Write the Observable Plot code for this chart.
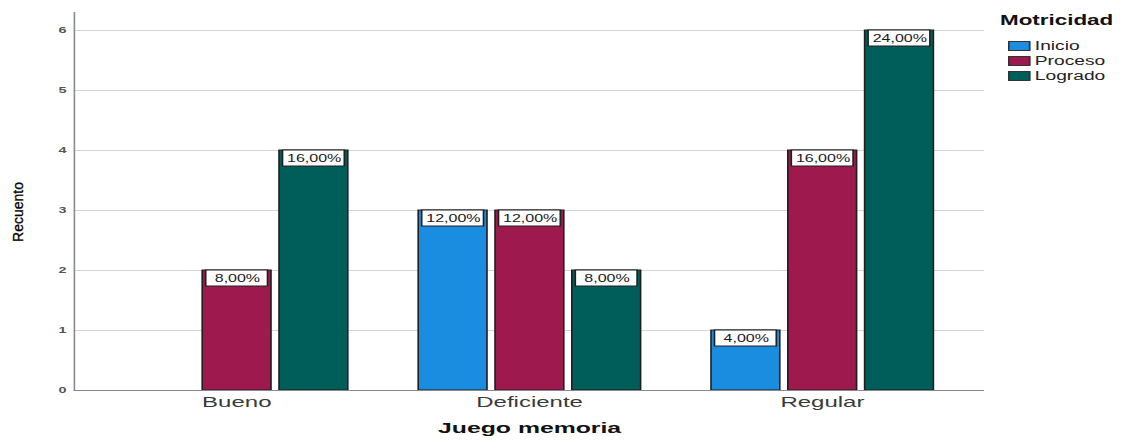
<!DOCTYPE html>
<html>
<head>
<meta charset="utf-8">
<script src="https://cdn.jsdelivr.net/npm/d3@7"></script>
<script src="https://cdn.jsdelivr.net/npm/@observablehq/plot@0.6"></script>
<style>
html, body { margin: 0; padding: 0; background: #fff; overflow: hidden; }
#stage { position: relative; width: 1125px; height: 441px; background: #fff; }
#wrap { position: absolute; left: 0; top: 0; width: 703.125px; height: 441px;
  transform: scaleX(1.6); transform-origin: 0 0;
  font-family: "Liberation Sans", Arial, sans-serif; }
#legend { position: absolute; left: 625px; top: 12px; color: #111; }
#legend .lt { font-size: 14px; font-weight: bold; line-height: 16px; }
#legend .rows { margin-top: 10.5px; }
#legend .row { display: flex; align-items: center; height: 15px; }
#legend .sw { margin-left: 5px; width: 13.75px; height: 10px; box-sizing: border-box; border: 1px solid #333; }
#legend .lb { margin-left: 3px; font-size: 12px; color: #222; }
#ylab { position: absolute; left: 18px; top: 212px; transform: translate(-50%, -50%) rotate(-90deg);
  font-family: "Liberation Sans", Arial, sans-serif; font-size: 14px; color: #000; white-space: nowrap;
  -webkit-text-stroke: 0.3px #000; }
</style>
</head>
<body>
<div id="stage">
  <div id="wrap"></div>
  <div id="ylab">Recuento</div>
</div>
<script>
// ---- data ----
const groups = ["Bueno", "Deficiente", "Regular"];
const series = ["Inicio", "Proceso", "Logrado"];
const colors = ["#1b8de0", "#9e1a4e", "#005e5a"];
const inicio = [0, 3, 1];
const proceso = [2, 3, 4];
const logrado = [4, 2, 6];
const total = 25;
const yTicks = [0, 1, 2, 3, 4, 5, 6];
const xTitle = "Juego memoria";
const legendTitle = "Motricidad";

const values = [inicio, proceso, logrado];
const rows = [];
groups.forEach((g, i) => {
  series.forEach((s, j) => {
    const c = values[j][i];
    if (c > 0) rows.push({
      group: g, series: s, count: c,
      label: (c / total * 100).toFixed(2).replace(".", ",") + "%"
    });
  });
});

const S = 1.6;
const W = 1125 / S;
const left = 73 / S, right = 985 / S;
const edge = 10; // extension of grid beyond outer facets (unscaled px)

const chart = Plot.plot({
  width: W,
  height: 441,
  marginLeft: left,
  marginRight: W - right,
  marginTop: 12,
  marginBottom: 51,
  style: { fontFamily: "'Liberation Sans', Arial, sans-serif", background: "white", overflow: "visible" },
  fx: { domain: groups, paddingInner: 0, paddingOuter: 0.0544, label: null },
  x: { domain: series, paddingInner: 0.1, paddingOuter: 0.44, axis: null },
  y: { domain: [0, 6.3] },
  color: { domain: series, range: colors },
  marks: [
    Plot.ruleY(yTicks.slice(1), { stroke: "#d4d4d4", strokeWidth: 1, insetLeft: -edge, insetRight: -edge }),
    Plot.barY(rows, { fx: "group", x: "series", y: "count", fill: "series", stroke: "#1e1e1e", strokeWidth: 1 }),
    Plot.barY(rows, { fx: "group", x: "series", y1: "count", y2: "count",
      insetBottom: -16, insetLeft: 2.2, insetRight: 2.2, fill: "white", stroke: "#1e1e1e", strokeWidth: 1 }),
    Plot.text(rows, { fx: "group", x: "series", y: "count", dy: 8.5, text: "label", fontSize: 10, fill: "#1a1a1a" }),
    Plot.ruleY([0], { stroke: "#8a8a8a", strokeWidth: 1, insetLeft: -edge, insetRight: -edge }),
    Plot.frame({ anchor: "left", stroke: "#8a8a8a", strokeWidth: 1, insetLeft: -edge, facetAnchor: "left" }),
    Plot.axisY(yTicks, { tickSize: 0, tickPadding: 5 + edge, fontSize: 9, fontWeight: "bold", fill: "#555",
      tickFormat: d3.format("d"), label: null }),
    Plot.axisFx({ anchor: "bottom", tickSize: 0, tickPadding: 6, fontSize: 15, fill: "#3a3a3a", label: null }),
    Plot.text([xTitle], { frameAnchor: "bottom", dy: 42, fontSize: 15.5, fontWeight: "bold", fill: "#111", facet: "super" })
  ]
});
document.getElementById("wrap").appendChild(chart);

// legend
const lg = document.createElement("div");
lg.id = "legend";
const lt = document.createElement("div");
lt.className = "lt";
lt.textContent = legendTitle;
lg.appendChild(lt);
const rws = document.createElement("div");
rws.className = "rows";
series.forEach((s, j) => {
  const r = document.createElement("div");
  r.className = "row";
  const sw = document.createElement("div");
  sw.className = "sw";
  sw.style.background = colors[j];
  const lb = document.createElement("div");
  lb.className = "lb";
  lb.textContent = s;
  r.appendChild(sw); r.appendChild(lb);
  rws.appendChild(r);
});
lg.appendChild(rws);
document.getElementById("wrap").appendChild(lg);
</script>
</body>
</html>
